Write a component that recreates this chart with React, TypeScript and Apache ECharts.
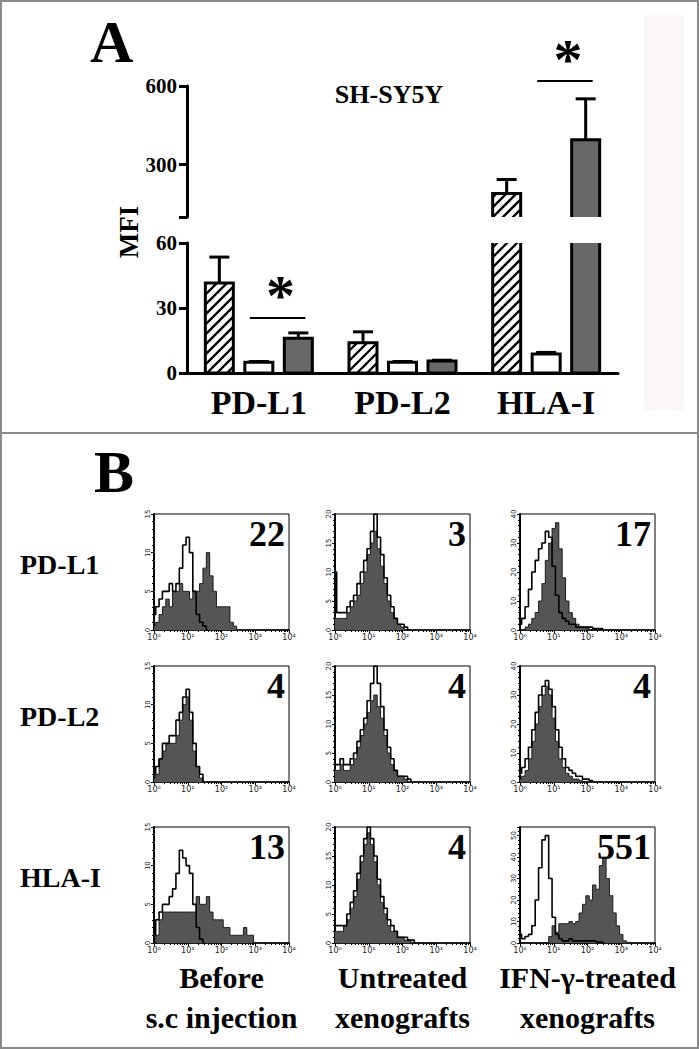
import { useEffect, useRef } from 'react';
import * as echarts from 'echarts';

// ---------- Panel A data ----------
const categories = ['PD-L1', 'PD-L2', 'HLA-I'];
const beforeMFI = [41.5, 14, 190];
const beforeSD = [12, 5, 53];
const untreatedMFI = [5, 5, 8.8];
const untreatedSD = [0.3, 0.3, 0.7];
const ifnMFI = [16, 5.5, 395];
const ifnSD = [2.5, 0.4, 156];
const upperTicks = [100, 300, 600];
const upperLabels = [300, 600];
const lowerMin = 0;
const lowerMax = 60;
const lowerInterval = 30;
const sigLower = [[0, 25.4]];
const sigUpper = [[2, 619]];

// ---------- Panel B data ----------
const rowLabels = ['PD-L1', 'PD-L2', 'HLA-I'];
const colLabels = [
  ['Before', 's.c injection'],
  ['Untreated', 'xenografts'],
  ['IFN-γ-treated', 'xenografts'],
];
const mfiNumbers = [
  ['22', '3', '17'],
  ['4', '4', '4'],
  ['13', '4', '551'],
];
const yMax = [
  [15, 20, 40],
  [15, 20, 40],
  [15, 20, 54],
];
const yStep = [
  [5, 5, 10],
  [5, 5, 10],
  [5, 5, 10],
];
const xTickLabels = ['10⁰', '10¹', '10²', '10³', '10⁴'];
const binWidthDecades = 0.1; // each count below is one 0.1-decade bin starting at 10^0

// counts: open (control) and filled (stained) histograms
const pdl1BeforeOpen = [2, 3, 4, 5, 5, 6, 5, 6, 8, 11, 12, 10, 5, 2, 1, 0.5, 0];
const pdl1BeforeFill = [0.5, 1, 2, 3, 4, 3, 5, 5, 6, 5, 5, 4, 5, 5, 6, 8, 10, 7, 5, 3, 3, 3, 3, 1, 0.5, 0];
const pdl1UntrOpen = [10, 3, 3, 3, 4, 5, 6, 8, 10, 12, 14, 17, 20, 16, 13, 9, 6, 4, 2, 1, 1, 0.5, 0];
const pdl1UntrFill = [2, 2, 2, 2, 3, 4, 5, 6, 8, 10, 13, 15, 17, 14, 11, 8, 5, 3, 2, 1, 0.5, 0];
const pdl1IfnOpen = [2, 4, 8, 14, 20, 24, 28, 30, 34, 32, 22, 12, 6, 4, 3, 2, 2, 1, 1, 1, 1, 1, 0.5, 0.5, 0.5, 0];
const pdl1IfnFill = [0, 0, 1, 2, 4, 6, 10, 16, 24, 30, 35, 37, 28, 18, 10, 6, 4, 2, 1, 1, 0.5, 0];

const pdl2BeforeOpen = [1, 2, 3, 5, 5, 6, 6, 8, 9, 11, 12, 9, 5, 2, 1, 0];
const pdl2BeforeFill = [0.5, 1, 3, 4, 5, 5, 5, 6, 8, 10, 11, 8, 4, 2, 0.5, 0];
const pdl2UntrOpen = [3, 3, 4, 3, 3, 4, 5, 7, 9, 11, 14, 17, 20, 17, 13, 9, 6, 4, 2, 1, 1, 1, 0.5, 0];
const pdl2UntrFill = [2, 2, 3, 2, 2, 3, 4, 6, 8, 10, 12, 14, 15, 13, 11, 8, 5, 3, 2, 1, 1, 0.5, 0];
const pdl2IfnOpen = [3, 5, 8, 12, 18, 24, 30, 33, 35, 32, 26, 18, 12, 8, 5, 4, 3, 2, 2, 1, 1, 0.5, 0];
const pdl2IfnFill = [1, 2, 4, 8, 14, 20, 26, 30, 33, 30, 22, 14, 8, 5, 3, 2, 1, 1, 0.5, 0];

const hlaBeforeOpen = [1, 3, 4, 5, 5, 6, 7, 9, 12, 11, 10, 9, 5, 2, 0.5, 0];
const hlaBeforeFill = [0, 1, 3, 4, 4, 4, 4, 4, 4, 4, 4, 4, 4, 6, 5, 5, 6, 4, 3, 3, 3, 2, 2, 1, 1, 1, 1, 2, 1, 1, 0];
const hlaUntrOpen = [3, 3, 3, 3, 5, 7, 9, 12, 15, 18, 20, 18, 15, 11, 8, 6, 4, 3, 2, 1, 1, 1, 0.5, 0.5, 0];
const hlaUntrFill = [2, 2, 2, 3, 4, 6, 8, 11, 14, 17, 19, 17, 14, 10, 7, 5, 3, 2, 2, 1, 1, 0.5, 0.5, 0];
const hlaIfnOpen = [4, 2, 3, 4, 8, 20, 35, 48, 50, 30, 12, 4, 2, 1, 1, 2, 1, 1, 1, 1, 1, 1, 1, 0.5, 0.5, 0];
const hlaIfnFill = [0, 0, 0, 0, 0, 0, 0, 0, 0, 3, 8, 5, 9, 9, 9, 10, 9, 10, 14, 18, 22, 20, 27, 25, 36, 40, 30, 22, 14, 8, 4, 1, 0];

const openHists = [
  [pdl1BeforeOpen, pdl1UntrOpen, pdl1IfnOpen],
  [pdl2BeforeOpen, pdl2UntrOpen, pdl2IfnOpen],
  [hlaBeforeOpen, hlaUntrOpen, hlaIfnOpen],
];
const fillHists = [
  [pdl1BeforeFill, pdl1UntrFill, pdl1IfnFill],
  [pdl2BeforeFill, pdl2UntrFill, pdl2IfnFill],
  [hlaBeforeFill, hlaUntrFill, hlaIfnFill],
];

// ---------- layout / style constants ----------
const SERIF = '"Liberation Serif", "Times New Roman", serif';
const BAR_W = 28;
const BAR_OFF = 39.5;
const HATCH = 10;
const GRAY = '#686868';
const colLeft = [154, 335, 520];
const rowTop = [514, 666, 827];
const histW = 135;
const histH = 116;

function hatchLines(x0: number, y0: number, x1: number, y1: number) {
  const out: any[] = [];
  const start = Math.ceil((x0 + y0) / HATCH) * HATCH;
  for (let c = start; c <= x1 + y1; c += HATCH) {
    const xa = Math.max(x0, c - y1);
    const xb = Math.min(x1, c - y0);
    if (xb > xa) {
      out.push({
        type: 'line',
        shape: { x1: xa, y1: c - xa, x2: xb, y2: c - xb },
        style: { stroke: '#000', lineWidth: 2.3 },
      });
    }
  }
  return out;
}

function barRender(params: any, api: any) {
  const ci = api.value(0);
  const v = api.value(1);
  const k = api.value(2);
  const top = api.coord([ci, v]);
  const base = api.coord([ci, 0]);
  const cs = params.coordSys;
  const cx = top[0] + (k - 1) * BAR_OFF;
  let y0 = Math.min(top[1], base[1]);
  let y1 = Math.max(top[1], base[1]);
  y0 = Math.max(y0, cs.y - 6);
  y1 = Math.min(y1, cs.y + cs.height + 6);
  if (y1 <= y0) return { type: 'group', children: [] };
  const x0 = cx - BAR_W / 2;
  const x1 = cx + BAR_W / 2;
  const children: any[] = [
    {
      type: 'rect',
      shape: { x: x0, y: y0, width: BAR_W, height: y1 - y0 },
      style: { fill: k === 2 ? GRAY : '#fff', stroke: 'none' },
    },
  ];
  if (k === 0) children.push(...hatchLines(x0, y0, x1, y1));
  children.push({
    type: 'rect',
    shape: { x: x0, y: y0, width: BAR_W, height: y1 - y0 },
    style: { fill: 'none', stroke: '#000', lineWidth: 3 },
  });
  return { type: 'group', children };
}

function errRender(params: any, api: any) {
  const ci = api.value(0);
  const m = api.value(1);
  const sd = api.value(2);
  const k = api.value(3);
  const p0 = api.coord([ci, m]);
  const p1 = api.coord([ci, m + sd]);
  const cx = p0[0] + (k - 1) * BAR_OFF;
  return {
    type: 'group',
    children: [
      { type: 'line', shape: { x1: cx, y1: p0[1], x2: cx, y2: p1[1] }, style: { stroke: '#000', lineWidth: 3 } },
      { type: 'line', shape: { x1: cx - 10, y1: p1[1], x2: cx + 10, y2: p1[1] }, style: { stroke: '#000', lineWidth: 3 } },
    ],
  };
}

function sigRender(params: any, api: any) {
  const ci = api.value(0);
  const lvl = api.value(1);
  const p = api.coord([ci, lvl]);
  const xa = p[0] - 9;
  const xb = p[0] + BAR_OFF + 7;
  return {
    type: 'group',
    children: [
      { type: 'line', shape: { x1: xa, y1: p[1], x2: xb, y2: p[1] }, style: { stroke: '#000', lineWidth: 2 } },
      {
        type: 'text',
        x: (xa + xb) / 2 + 3,
        y: p[1] + 7,
        style: { text: '*', font: `bold 58px ${SERIF}`, textAlign: 'center', textVerticalAlign: 'bottom', fill: '#000' },
      },
    ],
  };
}

function barData() {
  const d: any[] = [];
  categories.forEach((_, i) => {
    d.push([i, beforeMFI[i], 0]);
    d.push([i, untreatedMFI[i], 1]);
    d.push([i, ifnMFI[i], 2]);
  });
  return d;
}
function errData() {
  const d: any[] = [];
  categories.forEach((_, i) => {
    d.push([i, beforeMFI[i], beforeSD[i], 0]);
    d.push([i, untreatedMFI[i], untreatedSD[i], 1]);
    d.push([i, ifnMFI[i], ifnSD[i], 2]);
  });
  return d;
}

function histPoints(counts: number[]) {
  return counts.map((c, i) => [Math.pow(10, i * binWidthDecades), c]);
}

function buildOption() {
  const axisBlack = { color: '#000', width: 3 };
  const grid: any[] = [
    { left: 187, top: 86, width: 431, height: 131 },
    { left: 187, top: 243, width: 431, height: 130 },
  ];
  const xAxis: any[] = [
    { type: 'category', gridIndex: 0, data: categories, show: false },
    {
      type: 'category',
      gridIndex: 1,
      data: categories,
      axisLine: { lineStyle: axisBlack },
      axisTick: { alignWithLabel: true, length: 10, lineStyle: axisBlack },
      axisLabel: { color: '#000', fontFamily: SERIF, fontWeight: 'bold', fontSize: 34, margin: 12 },
    },
  ];
  const yAxis: any[] = [
    {
      type: 'value',
      gridIndex: 0,
      min: 100,
      max: 600,
      splitLine: { show: false },
      axisLine: { show: true, lineStyle: axisBlack },
      axisTick: { show: true, length: 8, lineStyle: axisBlack, customValues: upperTicks },
      axisLabel: { color: '#000', fontFamily: SERIF, fontWeight: 'bold', fontSize: 21, margin: 10, customValues: upperLabels },
    },
    {
      type: 'value',
      gridIndex: 1,
      min: lowerMin,
      max: lowerMax,
      interval: lowerInterval,
      splitLine: { show: false },
      axisLine: { show: true, lineStyle: axisBlack },
      axisTick: { show: true, length: 8, lineStyle: axisBlack },
      axisLabel: { color: '#000', fontFamily: SERIF, fontWeight: 'bold', fontSize: 21, margin: 10 },
    },
  ];
  const series: any[] = [
    { type: 'custom', xAxisIndex: 0, yAxisIndex: 0, renderItem: barRender, data: barData(), clip: true, z: 2 },
    { type: 'custom', xAxisIndex: 1, yAxisIndex: 1, renderItem: barRender, data: barData(), clip: true, z: 2 },
    { type: 'custom', xAxisIndex: 0, yAxisIndex: 0, renderItem: errRender, data: errData(), clip: true, z: 3 },
    { type: 'custom', xAxisIndex: 1, yAxisIndex: 1, renderItem: errRender, data: errData(), clip: true, z: 3 },
    { type: 'custom', xAxisIndex: 1, yAxisIndex: 1, renderItem: sigRender, data: sigLower, clip: false, z: 3 },
    { type: 'custom', xAxisIndex: 0, yAxisIndex: 0, renderItem: sigRender, data: sigUpper, clip: false, z: 3 },
  ];

  const graphic: any[] = [
    { type: 'rect', shape: { x: 644, y: 15, width: 40, height: 395 }, style: { fill: '#fbf6f7' }, z: -1 },
    { type: 'rect', shape: { x: 1, y: 1, width: 697, height: 1047 }, style: { fill: 'none', stroke: '#8a8a8a', lineWidth: 2 } },
    { type: 'line', shape: { x1: 0, y1: 433, x2: 699, y2: 433 }, style: { stroke: '#8a8a8a', lineWidth: 2 } },
    { type: 'text', x: 90, y: 12, style: { text: 'A', font: `bold 60px ${SERIF}`, fill: '#000' } },
    { type: 'text', x: 94, y: 442, style: { text: 'B', font: `bold 60px ${SERIF}`, fill: '#000' } },
    {
      type: 'text', x: 389, y: 94,
      style: { text: 'SH-SY5Y', font: `bold 26px ${SERIF}`, fill: '#000', textAlign: 'center', textVerticalAlign: 'middle' },
    },
    {
      type: 'text', x: 129, y: 232, rotation: Math.PI / 2,
      style: { text: 'MFI', font: `bold 27px ${SERIF}`, fill: '#000', textAlign: 'center', textVerticalAlign: 'middle' },
    },
  ];

  for (let r = 0; r < 3; r++) {
    graphic.push({
      type: 'text', x: 20, y: rowTop[r] + 50,
      style: { text: rowLabels[r], font: `bold 28px ${SERIF}`, fill: '#000', textAlign: 'left', textVerticalAlign: 'middle' },
    });
    for (let c = 0; c < 3; c++) {
      const g = grid.length;
      grid.push({ left: colLeft[c], top: rowTop[r], width: histW, height: histH, show: true, borderColor: '#000', borderWidth: 1 });
      xAxis.push({
        type: 'log', logBase: 10, gridIndex: g, min: 1, max: 10000,
        axisLine: { lineStyle: { color: '#000', width: 1.5 } },
        axisTick: { length: 3, lineStyle: { color: '#000' } },
        minorTick: { show: true, length: 2, splitNumber: 9, lineStyle: { color: '#000' } },
        splitLine: { show: false },
        axisLabel: {
          fontSize: 8, color: '#222', margin: 3, fontFamily: 'DejaVu Sans',
          formatter: (v: number) => xTickLabels[Math.round(Math.log10(v))] ?? '',
        },
      });
      yAxis.push({
        type: 'value', gridIndex: g, min: 0, max: yMax[r][c], interval: yStep[r][c],
        axisLine: { show: true, lineStyle: { color: '#000', width: 2 } },
        axisTick: { show: true, length: 3, lineStyle: { color: '#000' } },
        minorTick: { show: true, length: 2, splitNumber: 5, lineStyle: { color: '#000' } },
        splitLine: { show: false },
        axisLabel: { rotate: 90, fontSize: 7, color: '#222', margin: 3, fontFamily: 'DejaVu Sans', showMaxLabel: yMax[r][c] % yStep[r][c] === 0 },
      });
      series.push({
        type: 'line', xAxisIndex: g, yAxisIndex: g, step: 'middle', symbol: 'none', silent: true,
        data: histPoints(fillHists[r][c]),
        lineStyle: { color: '#1a1a1a', width: 1 },
        areaStyle: { color: '#555', opacity: 1 },
        z: 2,
      });
      series.push({
        type: 'line', xAxisIndex: g, yAxisIndex: g, step: 'middle', symbol: 'none', silent: true,
        data: histPoints(openHists[r][c]),
        lineStyle: { color: '#000', width: 1.6 },
        z: 3,
      });
      graphic.push({
        type: 'text', x: colLeft[c] + histW - 4, y: rowTop[r] + 2, z: 10,
        style: { text: mfiNumbers[r][c], font: `bold 36px ${SERIF}`, fill: '#000', textAlign: 'right', textVerticalAlign: 'top' },
      });
    }
  }
  for (let c = 0; c < 3; c++) {
    const cx = colLeft[c] + histW / 2;
    graphic.push({
      type: 'text', x: cx, y: 977,
      style: { text: colLabels[c][0], font: `bold 30px ${SERIF}`, fill: '#000', textAlign: 'center', textVerticalAlign: 'middle' },
    });
    graphic.push({
      type: 'text', x: cx, y: 1017,
      style: { text: colLabels[c][1], font: `bold 30px ${SERIF}`, fill: '#000', textAlign: 'center', textVerticalAlign: 'middle' },
    });
  }

  return {
    animation: false,
    backgroundColor: '#fff',
    textStyle: { fontFamily: SERIF },
    grid,
    xAxis,
    yAxis,
    series,
    graphic,
  };
}

export default function App() {
  const ref = useRef<HTMLDivElement>(null);
  useEffect(() => {
    if (!ref.current) return;
    const chart = echarts.init(ref.current, undefined, { renderer: 'svg' });
    chart.setOption(buildOption() as any);
    return () => chart.dispose();
  }, []);
  return <div ref={ref} style={{ position: 'absolute', left: 0, top: 0, width: 699, height: 1049 }} />;
}
